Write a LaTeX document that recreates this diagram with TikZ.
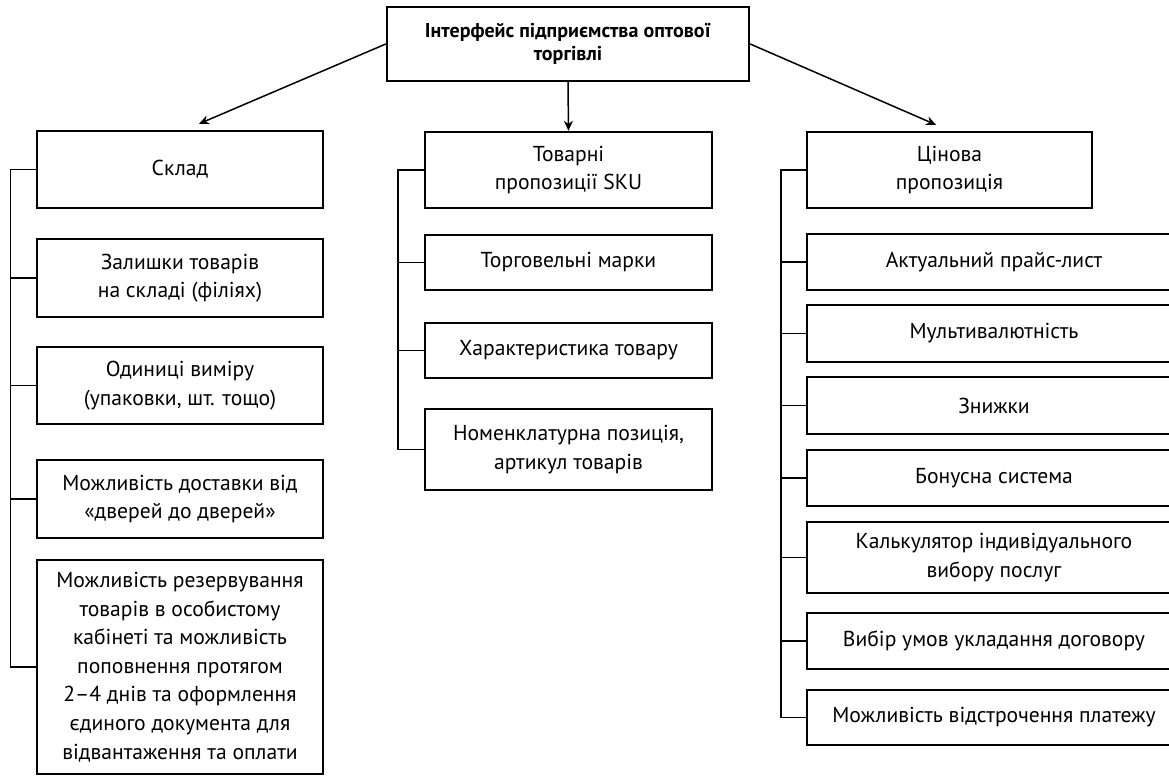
\documentclass[tikz,border=0pt]{standalone}
\usepackage{fontspec}
\setmainfont{PT Sans}
\usetikzlibrary{arrows.meta, positioning, calc}
\tikzset{
box/.style = {draw,
        line width=1.2pt,
        align=center,
        inner sep=2pt,
        font=\fontsize{10.8}{14.3}\selectfont
            },
% the title box on top
headbox/.style = {box,
        font=\fontsize{10}{11.7}\selectfont\bfseries
            },
link/.style = {line width=0.75pt},
arr/.style = {link, -{Stealth[length=5pt,width=4.5pt]}}
        }

\begin{document}
\begin{tikzpicture}[x=0.5pt,y=-0.5pt]

%%% Frame:
\useasboundingbox (0,0) rectangle (1169,776);
\clip (0,0) rectangle (1169,776);

%%% Top:
\node[headbox, minimum width=181pt, minimum height=37pt] (top) at (568,44)
     {Інтерфейс підприємства оптової\\торгівлі};

%%% Left column:
\node[box, minimum width=143pt, minimum height=38.5pt] (sklad) at (180,169.5) {Склад};
\node[box, minimum width=143pt, minimum height=39pt] (zal) at (180,278)
     {Залишки товарів\\на складі (філіях)};
\node[box, minimum width=143pt, minimum height=38.5pt] (odyn) at (180,385.5)
     {Одиниці виміру\\(упаковки, шт. тощо)};
\node[box, minimum width=143pt, minimum height=39pt] (dost) at (180,499)
     {Можливість доставки від\\«дверей до дверей»};
\node[box, minimum width=143pt, minimum height=107pt] (rez) at (180,667)
     {Можливість резервування\\товарів в особистому\\кабінеті та можливість\\поповнення протягом\\2–4 днів та оформлення\\єдиного документа для\\відвантаження та оплати};

%%% Middle column:
\node[box, minimum width=143.5pt, minimum height=38pt] (tovar) at (568.5,170)
     {Товарні\\пропозиції SKU};
\node[box, minimum width=143.5pt, minimum height=27.5pt] (marky) at (568.5,262.5)
     {Торговельні марки};
\node[box, minimum width=143.5pt, minimum height=27.5pt] (kharakt) at (568.5,350.5)
     {Характеристика товару};
\node[box, minimum width=143.5pt, minimum height=40.5pt] (nomenk) at (568.5,449.5)
     {Номенклатурна позиція,\\артикул товарів};

%%% Right column:
\node[box, minimum width=142.5pt, minimum height=38pt] (cina) at (949.5,170)
     {Цінова\\пропозиція};
\node[box, minimum width=187pt, minimum height=28pt] (akt) at (994,262)
     {Актуальний прайс-лист};
\node[box, minimum width=187pt, minimum height=28.5pt] (mult) at (994,333.5)
     {Мультивалютність};
\node[box, minimum width=187pt, minimum height=28.5pt] (znyzh) at (994,405.5)
     {Знижки};
\node[box, minimum width=187pt, minimum height=28pt] (bonus) at (994,478)
     {Бонусна система};
\node[box, minimum width=187pt, minimum height=35.5pt] (kalk) at (994,557.5)
     {Калькулятор індивідуального\\вибору послуг};
\node[box, minimum width=187pt, minimum height=28pt] (vybir) at (994,641)
     {Вибір умов укладання договору};
\node[box, minimum width=187pt, minimum height=27.5pt] (vidstr) at (994,717.5)
     {Можливість відстрочення платежу};

%%% Arrows from the top:
\draw[arr] (top.west) -- ([shift={(9.5pt,3pt)}]sklad.north);
\draw[arr] (top.south) -- (tovar.north);
\draw[arr] (top.east) -- ([shift={(-6.75pt,3pt)}]cina.north);

%%% Side buses:
\foreach \n in {zal,odyn,dost,rez}
    \draw[link] (sklad.west) -- ++(-12.75pt,0) |- (\n.west);
\foreach \n in {marky,kharakt,nomenk}
    \draw[link] (tovar.west) -- ++(-13pt,0) |- (\n.west);
\foreach \n in {akt,mult,znyzh,bonus,kalk,vybir,vidstr}
    \draw[link] (cina.west) -- ++(-12.5pt,0) |- (\n.west);

\end{tikzpicture}
\end{document}
